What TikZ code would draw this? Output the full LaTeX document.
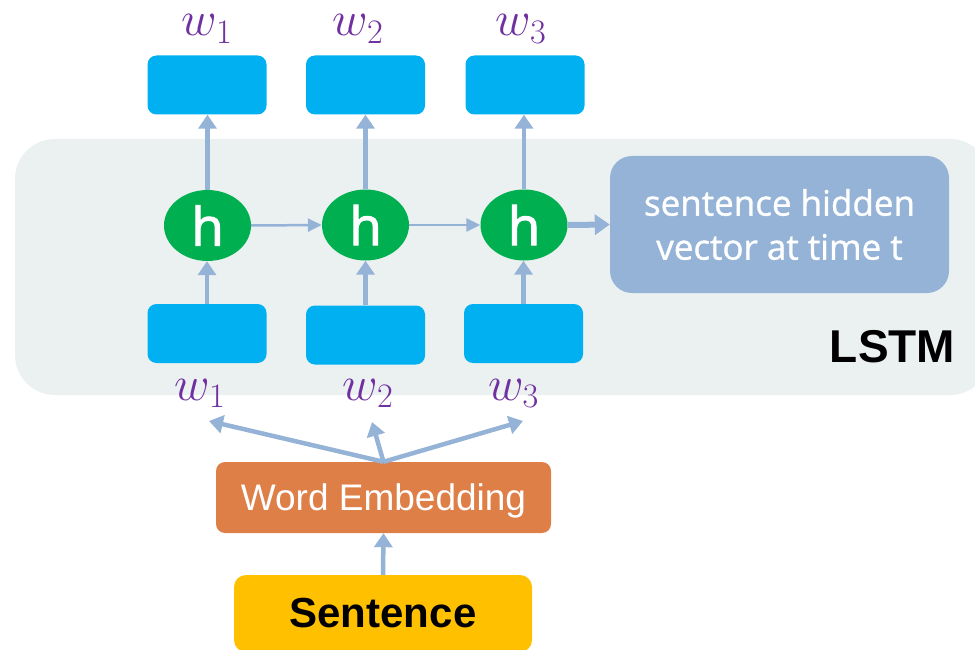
\RequirePackage{fix-cm}
\documentclass[tikz,border=0pt]{standalone}
\usepackage{fontspec}
\setmainfont{Liberation Sans}
\newfontfamily\uifont[FakeBold=1]{Open Sans}
\newfontfamily\hfont[FakeBold=2]{Open Sans}
\usetikzlibrary{arrows.meta,shapes.geometric}
\definecolor{panelc}{HTML}{EBF1F1}
\definecolor{cellc}{HTML}{00B0F0}
\definecolor{hc}{HTML}{00B050}
\definecolor{arrc}{HTML}{95B3D7}
\definecolor{embc}{HTML}{DF7F48}
\definecolor{senc}{HTML}{FFC000}
\definecolor{wc}{HTML}{7030A0}
\tikzset{
  cell/.style={fill=cellc, rounded corners=9pt, minimum width=119pt, minimum height=59pt, inner sep=0pt},
  hnode/.style={ellipse, fill=hc, minimum width=87pt, minimum height=71pt, inner sep=0pt, text=white, font=\hfont\fontsize{53}{53}\selectfont},
  wlab/.style={text=wc, anchor=base, inner sep=0pt, font=\fontsize{49}{49}\selectfont},
  arr/.style={draw=arrc, line width=4.5pt, -{Triangle[width=18pt,length=14pt]}},
  thinarr/.style={draw=arrc, line width=2.5pt, -{Triangle[width=13pt,length=14pt]}},
  thickarr/.style={draw=arrc, line width=6pt, -{Triangle[width=20pt,length=15pt]}},
}
\begin{document}
\begin{tikzpicture}[x=1pt,y=-1pt]
\useasboundingbox (0,0) rectangle (975,650);
% LSTM panel
\fill[panelc, rounded corners=40pt] (15,139) rectangle (990,395);
% top output cells
\node[cell] (t1) at (207,85) {};
\node[cell] (t2) at (365.5,85) {};
\node[cell] (t3) at (525,85) {};
% bottom input cells
\node[cell] (b1) at (207,333.5) {};
\node[cell] (b2) at (365.5,335) {};
\node[cell] (b3) at (523.5,333.5) {};
% hidden states
\node[hnode] (h1) at (207.5,225.5) {h};
\node[hnode] (h2) at (365.5,225) {h};
\node[hnode] (h3) at (524,225) {h};
% sentence hidden vector
\node[fill=arrc, rounded corners=22pt, minimum width=339pt, minimum height=137pt, inner sep=0pt,
      text=white, align=center, font=\uifont\fontsize{35}{44}\selectfont] (sv) at (779.5,224.5)
      {sentence hidden\\vector at time t};
% LSTM label
\node[anchor=base, inner sep=0pt, font=\bfseries\fontsize{46}{46}\selectfont] (lstm) at (892.5,362) {LSTM};
% labels
\node[wlab] (lt1) at (207,36) {$w_1$};
\node[wlab] (lt2) at (358,36) {$w_2$};
\node[wlab] (lt3) at (521,36) {$w_3$};
\node[wlab] (lb1) at (200,400) {$w_1$};
\node[wlab] (lb2) at (368,400) {$w_2$};
\node[wlab] (lb3) at (513.5,400) {$w_3$};
% embedding and sentence
\node[fill=embc, rounded corners=9pt, minimum width=335pt, minimum height=71pt, inner sep=0pt,
      text=white, text depth=0pt, font=\fontsize{37}{37}\selectfont] (we) at (383.5,497.5) {Word Embedding};
\node[fill=senc, rounded corners=12pt, minimum width=298pt, minimum height=77pt, inner sep=0pt,
      font=\bfseries\fontsize{42}{42}\selectfont] (sen) at (383,613.5) {Sentence};
% vertical arrows
\draw[arr] (b1.north) -- (b1.north |- h1.south);
\draw[arr] (b2.north) -- (b2.north |- h2.south);
\draw[arr] (b3.north) -- (b3.north |- h3.south);
\draw[arr] (h1.north) -- (h1.north |- t1.south);
\draw[arr] (h2.north) -- (h2.north |- t2.south);
\draw[arr] (h3.north) -- (h3.north |- t3.south);
% recurrent arrows
\draw[thinarr] (h1.east) -- (h2.west);
\draw[thinarr] (h2.east) -- (h3.west);
\draw[thickarr] (h3.east) -- (sv.west);
% embedding arrows
\coordinate (e1) at (209,421);
\coordinate (e2) at (372,422);
\coordinate (e3) at (523,421);
\draw[arr] (we.north) -- (e1);
\draw[arr] (we.north) -- (e2);
\draw[arr] (we.north) -- (e3);
\draw[arr] (sen.north) -- (we.south);
\end{tikzpicture}
\end{document}
